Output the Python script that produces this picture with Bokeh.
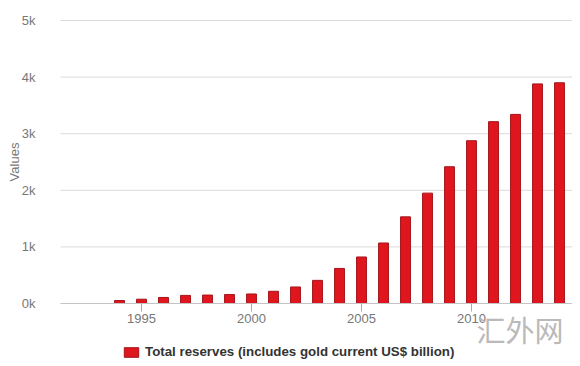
import math
from bokeh.plotting import figure
from bokeh.models import (ColumnDataSource, FixedTicker, Legend, LegendItem, Label,
                          Range1d, LinearAxis)
from bokeh.embed import file_html
from bokeh.resources import INLINE

years = [1994, 1995, 1996, 1997, 1998, 1999, 2000, 2001, 2002, 2003, 2004,
         2005, 2006, 2007, 2008, 2009, 2010, 2011, 2012, 2013, 2014]
reserves = [53, 76, 107, 143, 149, 158, 168, 216, 292, 409, 619,
            822, 1069, 1531, 1950, 2416, 2876, 3213, 3341, 3880, 3900]
series_name = "Total reserves (includes gold current US$ billion)"
y_title = "Values"
watermark = "汇外网"
x_ticks = [1995, 2000, 2005, 2010]
y_ticks = [0, 1000, 2000, 3000, 4000, 5000]
y_tick_labels = ["0k", "1k", "2k", "3k", "4k", "5k"]

# ---- layout (pixels) ----
W, H = 572, 362
PX_PER_YEAR = 22.0
PX_PER_UNIT = 56.6 / 1000.0
X_REF_PX, X_REF = 141.0, 1995      # where 1995 sits
Y0_PX = 303.0                      # where 0 sits (from top)
GRID_LEFT_PX = 60.0

def xdata(px):
    return X_REF + (px - X_REF_PX) / PX_PER_YEAR

def ydata(py):
    return (Y0_PX - py) / PX_PER_UNIT

x_lo, x_hi = xdata(0), xdata(W)
y_hi, y_lo = ydata(0), ydata(H)
grid_x0 = xdata(GRID_LEFT_PX)

src = ColumnDataSource(dict(year=years, value=reserves))

p = figure(width=W, height=H, output_backend="svg", toolbar_location=None,
           x_range=Range1d(x_lo, x_hi), y_range=Range1d(y_lo, y_hi),
           x_axis_type=None, y_axis_type=None,
           min_border_left=0, min_border_right=0, min_border_top=0, min_border_bottom=0)
p.outline_line_color = None
p.xgrid.visible = False
p.ygrid.visible = False

# horizontal grid lines from the y ticks
p.segment(x0=[grid_x0] * len(y_ticks), x1=[x_hi] * len(y_ticks), y0=y_ticks, y1=y_ticks,
          line_color="#dadada", line_width=1)

r = p.vbar(x="year", top="value", width=0.45, source=src,
           fill_color="#e0161f", line_color="#a3141a", line_width=1)

# y axis (labels only)
yax = LinearAxis(fixed_location=grid_x0, bounds=(0, 5000))
yax.ticker = FixedTicker(ticks=y_ticks)
yax.major_label_overrides = {t: l for t, l in zip(y_ticks, y_tick_labels)}
yax.axis_line_color = None
yax.major_tick_line_color = None
yax.minor_tick_line_color = None
yax.major_label_text_color = "#777777"
yax.major_label_text_font = "Liberation Sans"
yax.major_label_text_font_size = "13px"
yax.major_label_standoff = 19
p.add_layout(yax, "left")

# x axis at 0
xax = LinearAxis(fixed_location=0, bounds=(grid_x0, x_hi))
xax.ticker = FixedTicker(ticks=x_ticks)
xax.axis_line_color = "#c4c4c4"
xax.major_tick_line_color = "#aaaaaa"
xax.major_tick_out = 8
xax.major_tick_in = 0
xax.minor_tick_line_color = None
xax.major_label_text_color = "#777777"
xax.major_label_text_font = "Liberation Sans"
xax.major_label_text_font_size = "13px"
xax.major_label_standoff = 2
p.add_layout(xax, "below")

# axis title
p.add_layout(Label(x=xdata(14), y=2500, text=y_title, angle=math.pi / 2,
                   text_align="center", text_baseline="middle",
                   text_font="Liberation Sans", text_font_size="13px",
                   text_color="#777777"))

legend = Legend(items=[LegendItem(label=series_name, renderers=[r])],
                location=(122, 3), orientation="horizontal",
                glyph_width=18, glyph_height=12,
                label_text_font="Liberation Sans", label_text_font_style="bold",
                label_text_font_size="13.3px", label_text_color="#333333",
                border_line_color=None, background_fill_alpha=0,
                padding=0, margin=0, label_standoff=5)
p.add_layout(legend, "center")

p.add_layout(Label(x=xdata(476), y=ydata(349), text=watermark,
                   text_font="Noto Sans CJK SC", text_font_size="29px",
                   text_color="#bababa"))

open("out.html", "w").write(file_html(p, INLINE))
